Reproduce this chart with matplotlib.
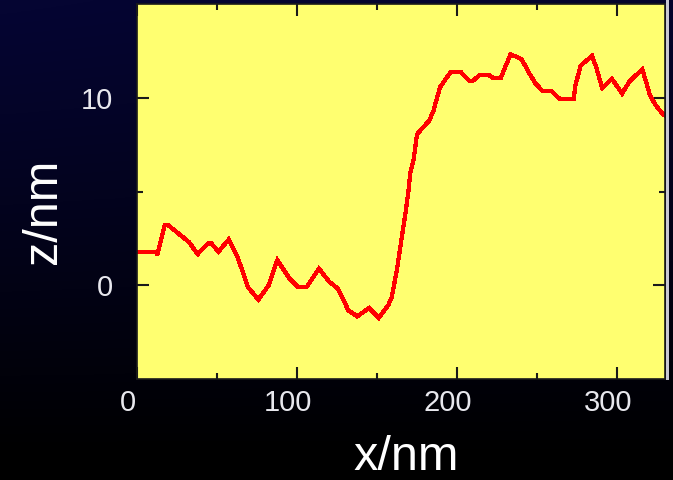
import numpy as np
import matplotlib
matplotlib.use("Agg")
import matplotlib.pyplot as plt
from matplotlib.ticker import FixedLocator
from matplotlib.transforms import ScaledTranslation
from matplotlib.patches import Rectangle

# Height profile across a step edge
x_nm = [0, 11.9, 12.6, 17.3, 19.5, 28.2, 32.5, 37.9, 44.4, 46.5, 50.9, 57.4,
        62.8, 69.3, 75.8, 82.3, 87.7, 95.3, 100.7, 106.1, 113.7, 120.2, 125.6,
        132.1, 137.6, 145.1, 151.2, 157.0, 159.2, 162.4, 165.7, 167.8, 170.0,
        170.7, 172.8, 175.0, 177.6, 182.4, 185.2, 187.4, 189.5, 192.8, 196.0,
        202.5, 207.9, 210.1, 214.4, 219.8, 222.6, 227.4, 229.6, 233.5, 237.2,
        240.4, 244.8, 249.1, 253.4, 258.8, 264.3, 272.9, 274.0, 277.3, 279.5,
        284.4, 287.0, 290.7, 296.8, 303.2, 307.6, 315.8, 320.6, 323.8, 328.1,
        330.0]
z_nm = [1.79, 1.79, 1.60, 3.21, 3.20, 2.60, 2.30, 1.66, 2.23, 2.23, 1.79, 2.45,
        1.52, -0.09, -0.77, 0.00, 1.34, 0.36, -0.09, -0.09, 0.89, 0.18, -0.18,
        -1.34, -1.66, -1.21, -1.73, -1.07, -0.63, 0.80, 2.68, 3.84, 5.27,
        5.96, 6.66, 8.05, 8.31, 8.75, 9.27, 9.97, 10.57, 10.98, 11.36,
        11.36, 10.89, 10.92, 11.22, 11.22, 11.05, 11.05, 11.53, 12.32, 12.18,
        12.06, 11.36, 10.75, 10.37, 10.37, 9.93, 9.93, 10.66, 11.71, 11.88,
        12.23, 11.62, 10.52, 11.01, 10.23, 10.84, 11.53, 10.14, 9.65, 9.18,
        9.05]

x_major = [0, 100, 200, 300]
x_minor = [50, 150, 250]
y_major = [0, 10]
y_minor = [5]
x_labels = ["0", "100", "200", "300"]
y_labels = ["0", "10"]

W, H, DPI = 673, 480, 100
fig = plt.figure(figsize=(W / DPI, H / DPI), dpi=DPI)

# Dark navy-to-black backdrop
bg = fig.add_axes([0, 0, 1, 1], zorder=-10)
rows = np.linspace(0, 1, 256)[:, None]
cols = np.linspace(0, 1, 64)[None, :]
fade = np.clip(1 - rows ** 1.1 * 1.05, 0, 1) * (1 - 0.15 * cols)
img = np.zeros((256, 64, 3))
img[..., 0] = 0.02 * fade
img[..., 1] = 0.02 * fade
img[..., 2] = 0.2 * fade
bg.imshow(img, aspect="auto", extent=[0, 1, 0, 1], origin="upper")
bg.set_axis_off()

# Light bar along the right edge of the panel
fig.add_artist(Rectangle((665.5 / W, 1 - 380 / H), 3.5 / W, 380 / H,
                         transform=fig.transFigure, facecolor="#c8c8d2",
                         edgecolor="none", zorder=5))

ax = fig.add_axes([137 / W, 1 - 379 / H, (665 - 137) / W, 375 / H])
ax.set_facecolor("#ffff70")
ax.plot(x_nm, z_nm, color="#ff0000", linewidth=2.3, antialiased=False,
        solid_joinstyle="miter")

ax.set_xlim(0, 330)
ax.set_ylim(-5, 15)

ax.xaxis.set_major_locator(FixedLocator(x_major))
ax.xaxis.set_minor_locator(FixedLocator(x_minor))
ax.yaxis.set_major_locator(FixedLocator(y_major))
ax.yaxis.set_minor_locator(FixedLocator(y_minor))
ax.set_xticklabels(x_labels)
ax.set_yticklabels(y_labels)

tick_font = ["Liberation Sans Narrow", "Liberation Sans", "DejaVu Sans"]
ax.tick_params(which="both", direction="in", top=True, right=True,
               color="#1a1a1a", width=1.5)
ax.tick_params(which="major", length=8.5)
ax.tick_params(which="minor", length=4.5)
ax.tick_params(axis="x", which="major", pad=7.5, labelsize=21,
               labelcolor="#e8e8ee")
ax.tick_params(axis="y", which="major", pad=17, labelsize=21,
               labelcolor="#e8e8ee")
shift = ScaledTranslation(-9 / DPI, 0, fig.dpi_scale_trans)
for lab in ax.get_xticklabels():
    lab.set_fontfamily(tick_font)
    lab.set_transform(lab.get_transform() + shift)
for lab in ax.get_yticklabels():
    lab.set_fontfamily(tick_font)

for side in ["left", "right", "top", "bottom"]:
    ax.spines[side].set_color("#1a1a1a")
    ax.spines[side].set_linewidth(1.2)

label_font = ["Liberation Sans", "DejaVu Sans"]
ax.set_xlabel("x/nm", fontsize=35, color="white", family=label_font,
              va="baseline")
ax.xaxis.set_label_coords((406 - 137) / 528, (379 - 470) / 375)
ax.set_ylabel("z/nm", fontsize=35, color="white", family=label_font,
              va="center")
ax.yaxis.set_label_coords((43 - 137) / 528, (379 - 211) / 375)

fig.savefig("out.png", dpi=DPI)
